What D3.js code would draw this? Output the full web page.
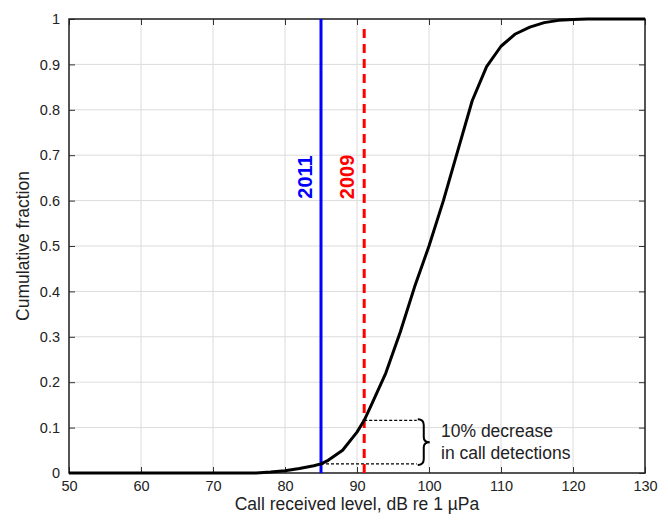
<!DOCTYPE html>
<html>
<head>
<meta charset="utf-8">
<script src="https://cdn.jsdelivr.net/npm/d3@7"></script>
<style>
  body { margin: 0; background: #fff; }
  text { font-family: "Liberation Sans", Arial, sans-serif; }
</style>
</head>
<body>
<svg id="main" width="668" height="520"></svg>
<script>
// Данные кривой (уровень, доля)
const levels = [50, 60, 70, 76, 78, 80, 82, 84, 85, 86, 88, 90, 91, 92, 94, 96, 98, 100, 102, 104, 106, 108, 110, 112, 114, 116, 118, 120, 122, 130];
const fractions = [0, 0, 0, 0, 0.002, 0.005, 0.01, 0.016, 0.02, 0.028, 0.05, 0.09, 0.116, 0.15, 0.22, 0.31, 0.41, 0.50, 0.60, 0.71, 0.82, 0.895, 0.94, 0.967, 0.982, 0.992, 0.997, 0.999, 1, 1];
const xTicks = [50, 60, 70, 80, 90, 100, 110, 120, 130];
const yTicks = [0, 0.1, 0.2, 0.3, 0.4, 0.5, 0.6, 0.7, 0.8, 0.9, 1];
const line2011 = 85;
const line2009 = 91;
const lowLevel = 0.02;
const highLevel = 0.116;
const braceEnd = 98.3;

const svg = d3.select('svg#main');
const margin = { left: 69, top: 19, right: 23, bottom: 47 };
const W = 668, H = 520;

const x = d3.scaleLinear().domain([50, 130]).range([margin.left, W - margin.right]);
const y = d3.scaleLinear().domain([0, 1]).range([H - margin.bottom, margin.top]);

// Сетка
const grid = svg.append('g');
grid.selectAll('.vg').data(xTicks).enter().append('line')
    .attr('x1', d => x(d)).attr('x2', d => x(d))
    .attr('y1', y(0)).attr('y2', y(1))
    .attr('stroke', '#dcdcdc').attr('stroke-width', 1);
grid.selectAll('.hg').data(yTicks).enter().append('line')
    .attr('x1', x(50)).attr('x2', x(130))
    .attr('y1', d => y(d)).attr('y2', d => y(d))
    .attr('stroke', '#dcdcdc').attr('stroke-width', 1);

// Оси (тики внутрь)
const xAxis = svg.append('g').attr('transform', `translate(0,${y(0)})`)
    .call(d3.axisBottom(x).tickValues(xTicks).tickSize(-6).tickPadding(8).tickFormat(d3.format('d')));
const xAxisTop = svg.append('g').attr('transform', `translate(0,${y(1)})`)
    .call(d3.axisTop(x).tickValues(xTicks).tickSize(-6).tickFormat(''));
const yAxis = svg.append('g').attr('transform', `translate(${x(50)},0)`)
    .call(d3.axisLeft(y).tickValues(yTicks).tickSize(-6).tickPadding(9).tickFormat(d => d === 0 || d === 1 ? d3.format('d')(d) : d3.format('.1f')(d)));
const yAxisRight = svg.append('g').attr('transform', `translate(${x(130)},0)`)
    .call(d3.axisRight(y).tickValues(yTicks).tickSize(-6).tickFormat(''));

[xAxis, xAxisTop, yAxis, yAxisRight].forEach(a => {
    a.select('.domain').remove();
    a.selectAll('.tick line').attr('stroke', '#333').attr('stroke-width', 1);
    a.selectAll('text').attr('font-size', 14.5).attr('fill', '#222');
});

// Рамка
svg.append('rect')
    .attr('x', x(50)).attr('y', y(1))
    .attr('width', x(130) - x(50)).attr('height', y(0) - y(1))
    .attr('fill', 'none').attr('stroke', '#222').attr('stroke-width', 1.5);

// Пунктирные горизонтали
svg.append('line')
    .attr('x1', x(line2011)).attr('x2', x(braceEnd))
    .attr('y1', y(lowLevel)).attr('y2', y(lowLevel))
    .attr('stroke', '#000').attr('stroke-width', 1.2).attr('stroke-dasharray', '3,2');
svg.append('line')
    .attr('x1', x(line2009)).attr('x2', x(braceEnd))
    .attr('y1', y(highLevel)).attr('y2', y(highLevel))
    .attr('stroke', '#000').attr('stroke-width', 1.2).attr('stroke-dasharray', '3,2');

// Вертикальные линии
svg.append('line')
    .attr('x1', x(line2011)).attr('x2', x(line2011))
    .attr('y1', y(0)).attr('y2', y(1))
    .attr('stroke', '#0000ff').attr('stroke-width', 3);
svg.append('line')
    .attr('x1', x(line2009)).attr('x2', x(line2009))
    .attr('y1', y(0)).attr('y2', y(1) + 4)
    .attr('stroke', '#ff0000').attr('stroke-width', 3).attr('stroke-dasharray', '9,6');

// Кривая
const data = levels.map((l, i) => [l, fractions[i]]);
svg.append('path')
    .datum(data)
    .attr('d', d3.line().x(d => x(d[0])).y(d => y(d[1])))
    .attr('fill', 'none').attr('stroke', '#000').attr('stroke-width', 3).attr('stroke-linejoin', 'round');

// Подписи годов
svg.append('text')
    .attr('transform', `translate(${x(line2011) - 9},${y(0.652)}) rotate(-90)`)
    .attr('text-anchor', 'middle')
    .attr('font-size', 20).attr('font-weight', 'bold').attr('fill', '#0000ff')
    .text('2011');
svg.append('text')
    .attr('transform', `translate(${x(line2009) - 10},${y(0.652)}) rotate(-90)`)
    .attr('text-anchor', 'middle')
    .attr('font-size', 20).attr('font-weight', 'bold').attr('fill', '#ff0000')
    .text('2009');

// Фигурная скобка
function bracePath(bx, y0, y1, w) {
    const h = y1 - y0, m = y0 + h / 2, c = w / 2;
    return `M${bx},${y0} Q${bx + c},${y0} ${bx + c},${y0 + 6} L${bx + c},${m - 5} Q${bx + c},${m} ${bx + w},${m}` +
        ` Q${bx + c},${m} ${bx + c},${m + 5} L${bx + c},${y1 - 6} Q${bx + c},${y1} ${bx},${y1}`;
}
svg.append('path')
    .attr('d', bracePath(x(braceEnd) + 1, y(highLevel) - 1, y(lowLevel) + 1, 12))
    .attr('fill', 'none').attr('stroke', '#000').attr('stroke-width', 2);

const ann = svg.append('text').attr('font-size', 17.5).attr('fill', '#222');
ann.append('tspan').attr('x', 441).attr('y', 437).text('10% decrease');
ann.append('tspan').attr('x', 441).attr('y', 459).text('in call detections');

// Подписи осей
svg.append('text')
    .attr('x', (x(50) + x(130)) / 2).attr('y', 510)
    .attr('text-anchor', 'middle').attr('font-size', 17.5).attr('fill', '#222')
    .text('Call received level, dB re 1 µPa');
svg.append('text')
    .attr('transform', `translate(29,${(y(0) + y(1)) / 2}) rotate(-90)`)
    .attr('text-anchor', 'middle').attr('font-size', 17.5).attr('fill', '#222')
    .text('Cumulative fraction');
</script>
</body>
</html>
